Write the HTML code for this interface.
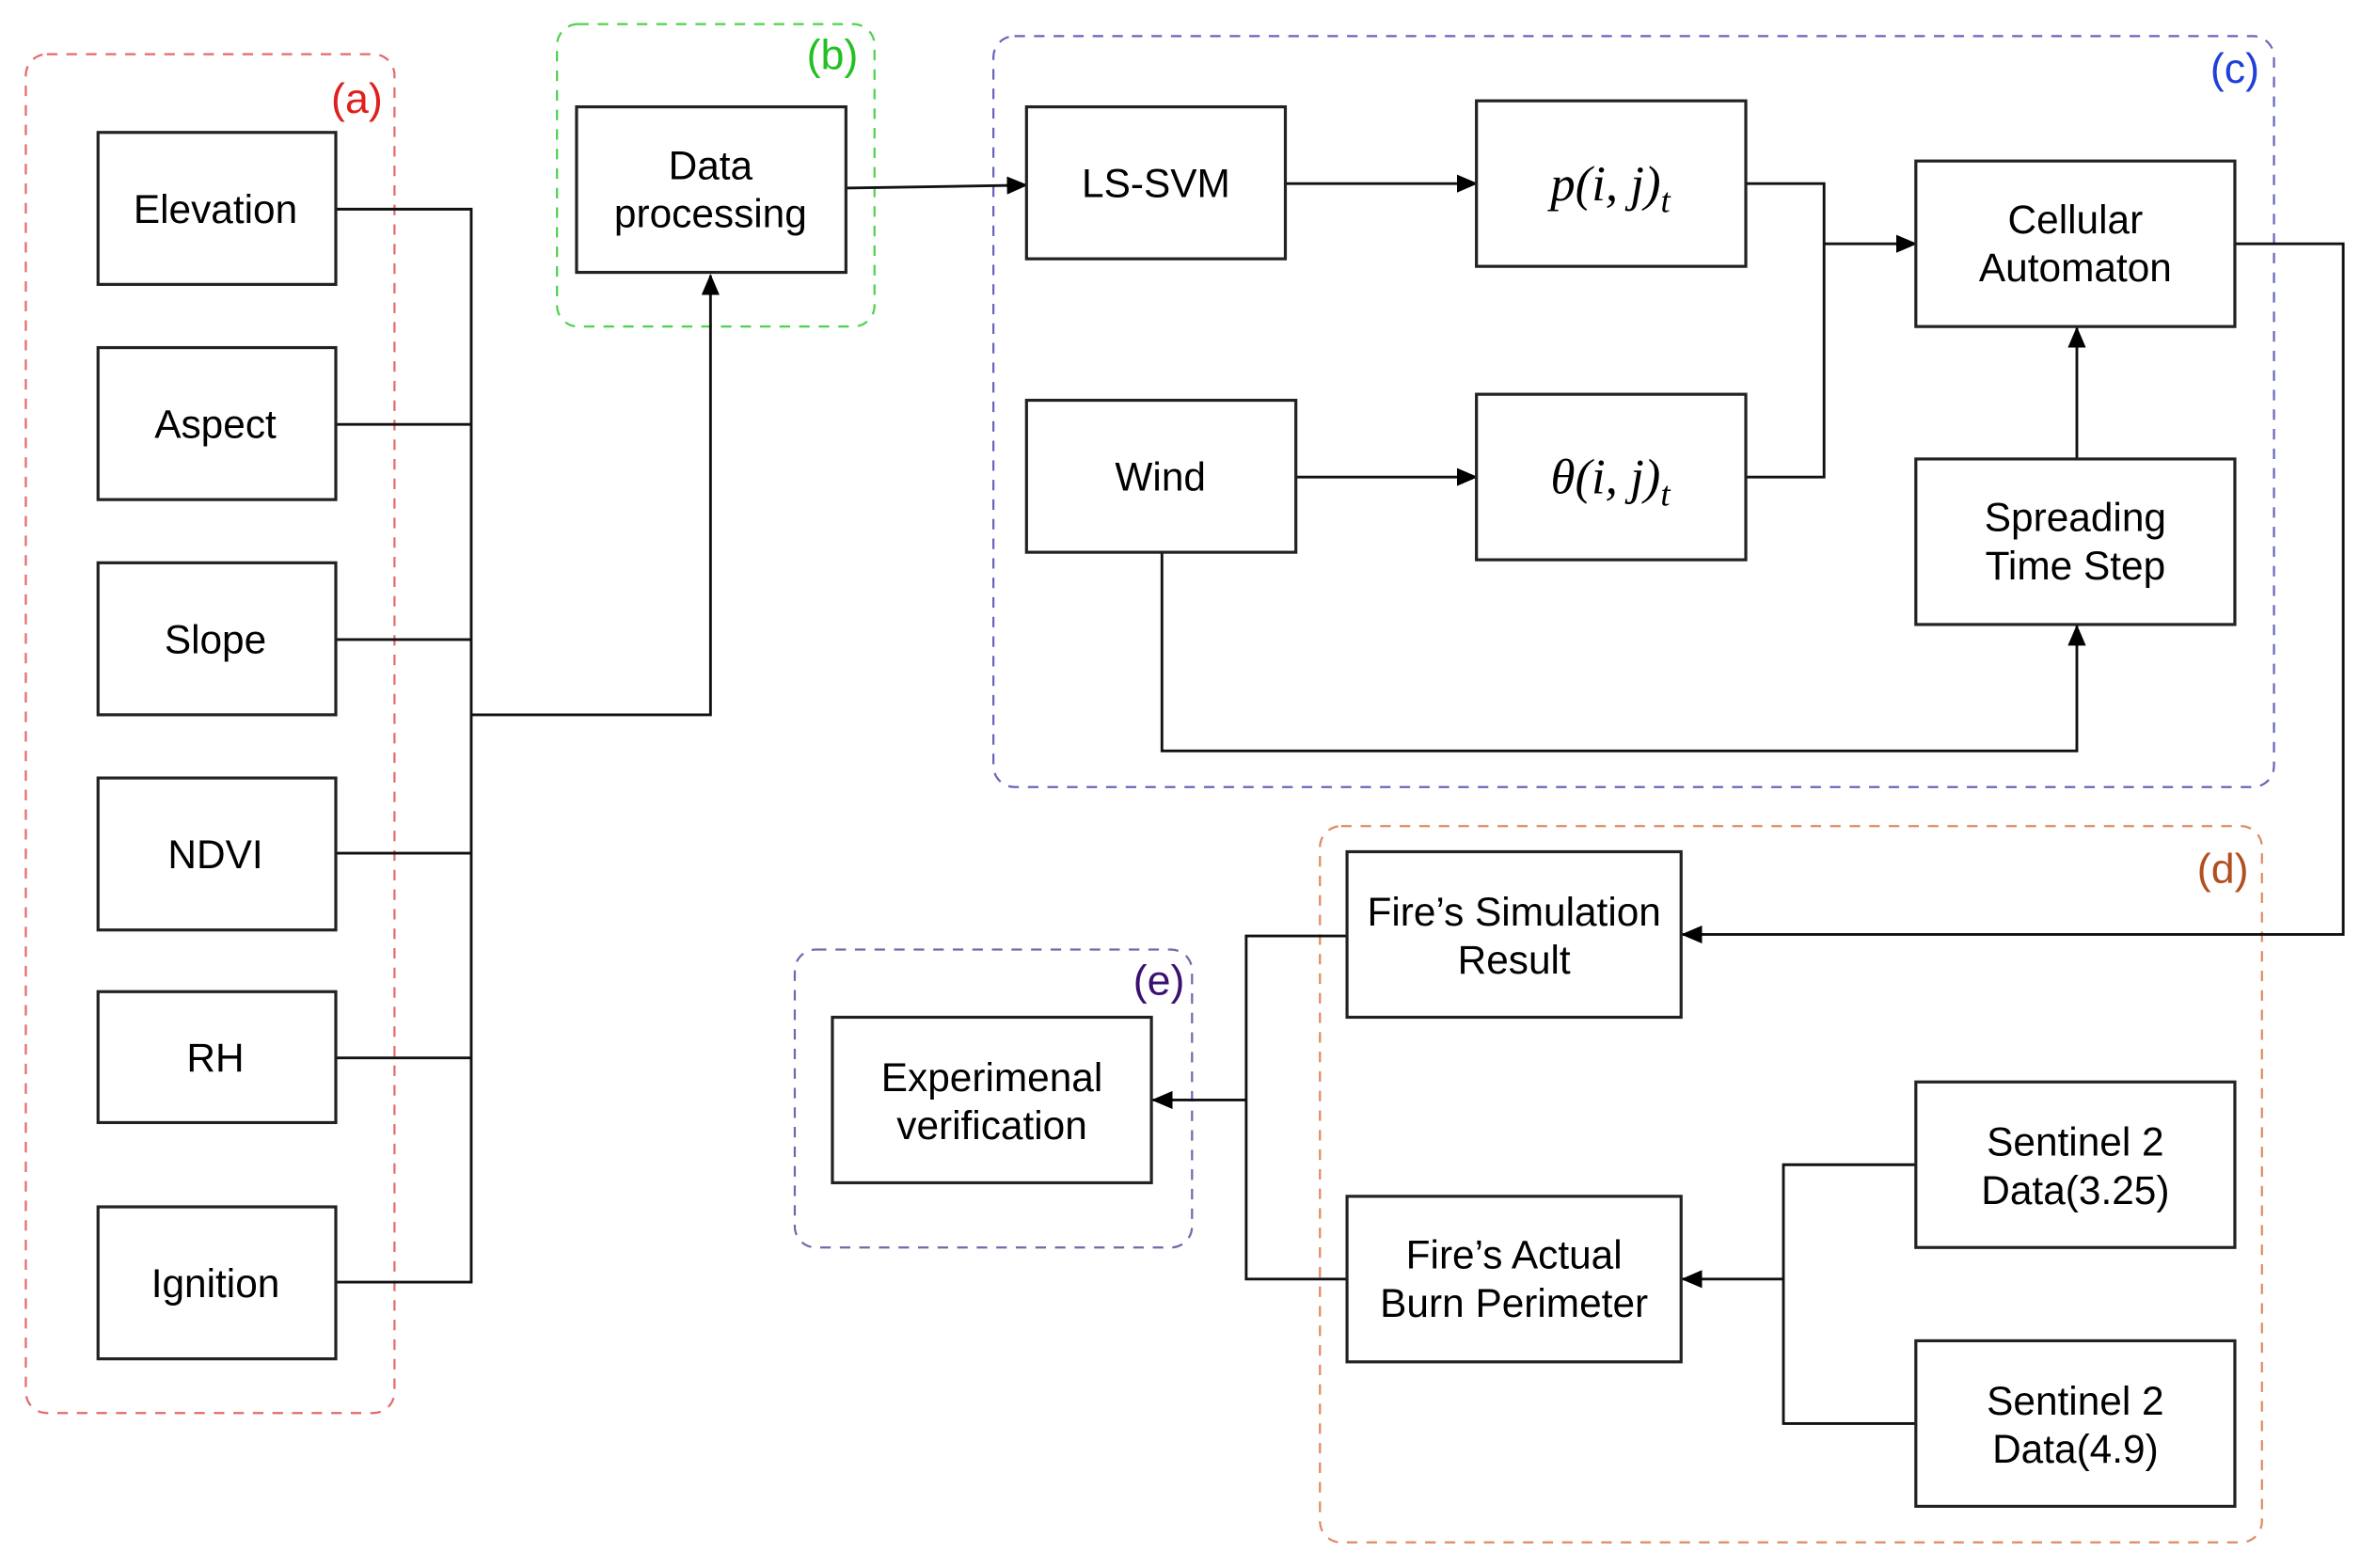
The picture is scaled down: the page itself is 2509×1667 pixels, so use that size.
<!DOCTYPE html>
<html><head><meta charset="utf-8"><style>
html,body{margin:0;padding:0;background:#fff;}
svg{display:block;}
text{font-family:"Liberation Sans",sans-serif;font-size:26.5px;fill:#000;}
.m{font-family:"Liberation Serif",serif;font-style:italic;font-size:33px;}
.b{fill:#fff;stroke:#222;stroke-width:2;}
.l{fill:none;stroke:#111;stroke-width:1.8;}
</style></head><body>
<svg width="2509" height="1667" viewBox="0 0 1568 1042" xmlns="http://www.w3.org/2000/svg">
<defs><marker id="a" markerWidth="14" markerHeight="12" refX="13" refY="6" orient="auto" markerUnits="userSpaceOnUse"><path d="M0,0 L14,6 L0,12 z" fill="#000"/></marker></defs>
<rect x="17" y="36" width="245" height="903" rx="14" fill="none" stroke="#e46a6a" stroke-width="1.4" stroke-dasharray="7,6"/>
<text x="237" y="75" text-anchor="middle" style="fill:#e0201c;font-size:28px">(a)</text>
<rect x="370" y="16" width="211" height="201" rx="14" fill="none" stroke="#4fd24f" stroke-width="1.4" stroke-dasharray="7,6"/>
<text x="553" y="46" text-anchor="middle" style="fill:#22c022;font-size:28px">(b)</text>
<rect x="660" y="24" width="851" height="499" rx="14" fill="none" stroke="#6666bb" stroke-width="1.4" stroke-dasharray="7,6"/>
<text x="1485" y="55" text-anchor="middle" style="fill:#2040d8;font-size:28px">(c)</text>
<rect x="877" y="549" width="626" height="476" rx="14" fill="none" stroke="#e08a60" stroke-width="1.4" stroke-dasharray="7,6"/>
<text x="1477" y="587" text-anchor="middle" style="fill:#b05020;font-size:28px">(d)</text>
<rect x="528" y="631" width="264" height="198" rx="14" fill="none" stroke="#7766aa" stroke-width="1.4" stroke-dasharray="7,6"/>
<text x="770" y="661" text-anchor="middle" style="fill:#3a1070;font-size:28px">(e)</text>
<path class="l" d="M223,139H313V852H223 M223,282H313 M223,425H313 M223,567H313 M223,703H313"/>
<path class="l" d="M313,475H472V183" marker-end="url(#a)"/>
<path class="l" d="M562,125L682,123" marker-end="url(#a)"/>
<path class="l" d="M854,122H981" marker-end="url(#a)"/>
<path class="l" d="M861,317H981" marker-end="url(#a)"/>
<path class="l" d="M1160,122H1212V317H1160"/>
<path class="l" d="M1212,162H1273" marker-end="url(#a)"/>
<path class="l" d="M1380,305V218" marker-end="url(#a)"/>
<path class="l" d="M772,367V499H1380V416" marker-end="url(#a)"/>
<path class="l" d="M1485,162H1557V621H1118" marker-end="url(#a)"/>
<path class="l" d="M895,622H828V850H895"/>
<path class="l" d="M828,731H766" marker-end="url(#a)"/>
<path class="l" d="M1273,774H1185V946H1273"/>
<path class="l" d="M1185,850H1118" marker-end="url(#a)"/>
<rect class="b" x="65" y="88" width="158" height="101"/><text x="143" y="148" text-anchor="middle">Elevation</text>
<rect class="b" x="65" y="231" width="158" height="101"/><text x="143" y="291" text-anchor="middle">Aspect</text>
<rect class="b" x="65" y="374" width="158" height="101"/><text x="143" y="434" text-anchor="middle">Slope</text>
<rect class="b" x="65" y="517" width="158" height="101"/><text x="143" y="577" text-anchor="middle">NDVI</text>
<rect class="b" x="65" y="659" width="158" height="87"/><text x="143" y="712" text-anchor="middle">RH</text>
<rect class="b" x="65" y="802" width="158" height="101"/><text x="143" y="862" text-anchor="middle">Ignition</text>
<rect class="b" x="383" y="71" width="179" height="110"/><text x="472" y="119" text-anchor="middle">Data</text><text x="472" y="151" text-anchor="middle">processing</text>
<rect class="b" x="682" y="71" width="172" height="101"/><text x="768" y="131" text-anchor="middle">LS-SVM</text>
<rect class="b" x="981" y="67" width="179" height="110"/><text class="m" x="1070" y="133" text-anchor="middle">p(i, j)<tspan dy="8" font-size="23">t</tspan></text>
<rect class="b" x="682" y="266" width="179" height="101"/><text x="771" y="326" text-anchor="middle">Wind</text>
<rect class="b" x="981" y="262" width="179" height="110"/><text class="m" x="1070" y="328" text-anchor="middle">θ(i, j)<tspan dy="8" font-size="23">t</tspan></text>
<rect class="b" x="1273" y="107" width="212" height="110"/><text x="1379" y="155" text-anchor="middle">Cellular</text><text x="1379" y="187" text-anchor="middle">Automaton</text>
<rect class="b" x="1273" y="305" width="212" height="110"/><text x="1379" y="353" text-anchor="middle">Spreading</text><text x="1379" y="385" text-anchor="middle">Time Step</text>
<rect class="b" x="895" y="566" width="222" height="110"/><text x="1006" y="615" text-anchor="middle">Fire’s Simulation</text><text x="1006" y="647" text-anchor="middle">Result</text>
<rect class="b" x="895" y="795" width="222" height="110"/><text x="1006" y="843" text-anchor="middle">Fire’s Actual</text><text x="1006" y="875" text-anchor="middle">Burn Perimeter</text>
<rect class="b" x="1273" y="719" width="212" height="110"/><text x="1379" y="768" text-anchor="middle">Sentinel 2</text><text x="1379" y="800" text-anchor="middle">Data(3.25)</text>
<rect class="b" x="1273" y="891" width="212" height="110"/><text x="1379" y="940" text-anchor="middle">Sentinel 2</text><text x="1379" y="972" text-anchor="middle">Data(4.9)</text>
<rect class="b" x="553" y="676" width="212" height="110"/><text x="659" y="725" text-anchor="middle">Experimenal</text><text x="659" y="757" text-anchor="middle">verification</text>
</svg>
</body></html>
